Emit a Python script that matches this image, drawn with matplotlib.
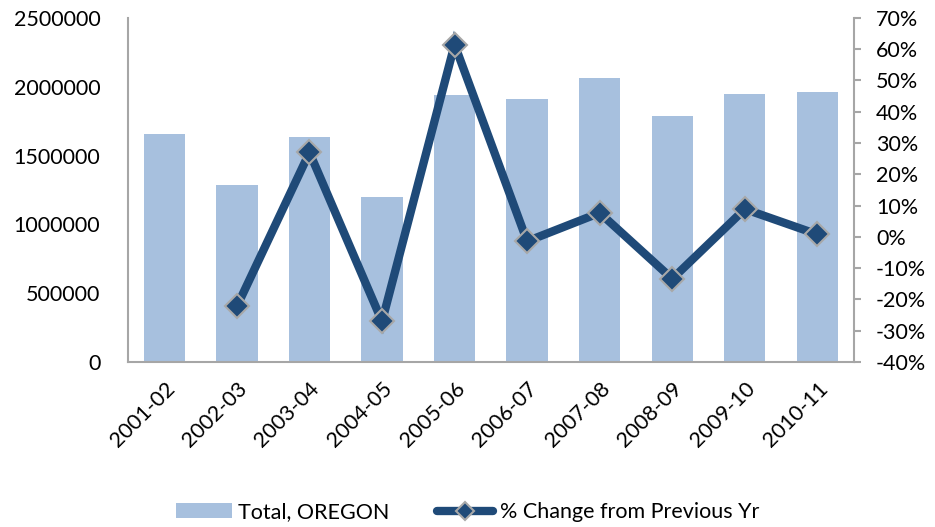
import matplotlib
matplotlib.use('agg')
from matplotlib import pyplot as plt
from matplotlib.ticker import FuncFormatter, MultipleLocator
import numpy as np

years = ['2001-02', '2002-03', '2003-04', '2004-05', '2005-06',
         '2006-07', '2007-08', '2008-09', '2009-10', '2010-11']
totals = [1655000, 1288000, 1636000, 1199000, 1940000,
          1909000, 2061000, 1788000, 1945000, 1962000]
pct_change = [np.nan, -22.2, 27.0, -27.0, 61.5, -1.4, 7.7, -13.4, 8.9, 0.8]

bar_color = '#A7C0DE'
line_color = '#1F4A78'
spine_color = '#A6A6A6'
fsize = 15.5

plt.rcParams['font.family'] = ['Lato', 'DejaVu Sans']

fig, ax = plt.subplots(figsize=(9.35, 5.27), dpi=100)
fig.subplots_adjust(left=0.137, right=0.913, top=0.966, bottom=0.313)

x = np.arange(len(years))
bars = ax.bar(x, totals, width=0.57, color=bar_color, label='Total, OREGON', zorder=2)
ax.set_xlim(-0.5, len(years) - 0.5)
ax.set_ylim(0, 2500000)
ax.yaxis.set_major_locator(MultipleLocator(500000))
ax.yaxis.set_major_formatter(FuncFormatter(lambda v, p: f'{v:.0f}'))
ax.set_xticks(x)
ax.set_xticklabels(years, rotation=45, ha='right', rotation_mode='anchor')
ax.tick_params(axis='x', length=0, pad=12, labelsize=fsize)
ax.tick_params(axis='y', length=0, pad=20, labelsize=fsize)

for side in ['top', 'right']:
    ax.spines[side].set_visible(False)
for side in ['left', 'bottom']:
    ax.spines[side].set_color(spine_color)
    ax.spines[side].set_linewidth(1.5)

ax2 = ax.twinx()
line, = ax2.plot(x, pct_change, color=line_color, linewidth=6, marker='D', markersize=12.5,
                 markerfacecolor=line_color, markeredgecolor='#A8A8A8', markeredgewidth=1.5,
                 label='% Change from Previous Yr', zorder=3, solid_joinstyle='miter',
                 solid_capstyle='round')
ax2.set_ylim(-40, 70)
ax2.yaxis.set_major_locator(MultipleLocator(10))
ax2.yaxis.set_major_formatter(FuncFormatter(lambda v, p: f'{v:.0f}%'))
ax2.tick_params(axis='y', length=5, width=1.5, color=spine_color, pad=11, labelsize=fsize)
for side in ['top', 'left', 'bottom']:
    ax2.spines[side].set_visible(False)
ax2.spines['right'].set_color(spine_color)
ax2.spines['right'].set_linewidth(1.5)

fig.legend(handles=[bars, line], loc='center', bbox_to_anchor=(0.5, 0.028), ncol=2,
           frameon=False, fontsize=fsize, handlelength=2.6, handletextpad=0.3,
           columnspacing=2.2, borderaxespad=0, markerscale=0.75)

fig.savefig('out.png', dpi=100)
